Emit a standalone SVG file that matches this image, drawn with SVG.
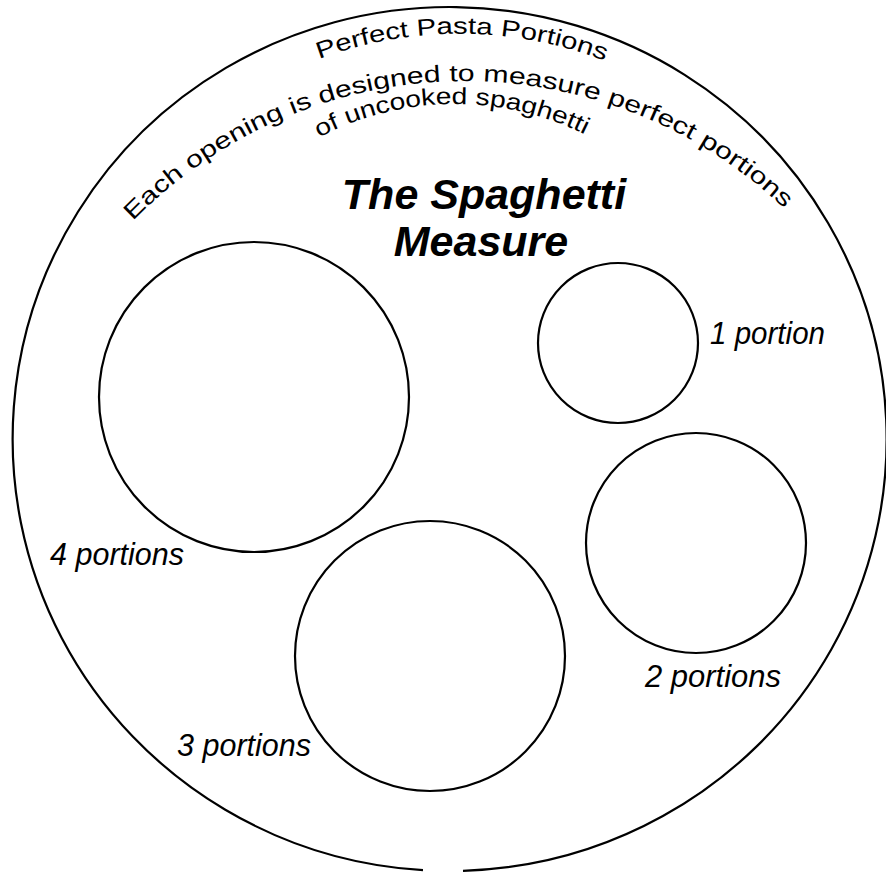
<svg xmlns="http://www.w3.org/2000/svg" xmlns:xlink="http://www.w3.org/1999/xlink" width="886" height="872" viewBox="0 0 886 872">
<style>
.ring{fill:none;stroke:#000;stroke-width:2.2}
.arc{font-family:"Liberation Sans",Arial,sans-serif;font-size:23.5px;fill:#000}
.lbl{font-family:"Liberation Sans",Arial,sans-serif;font-size:31px;font-style:italic;fill:#000}
.title{font-family:"Liberation Sans",Arial,sans-serif;font-size:43px;font-style:italic;font-weight:bold;fill:#000;text-anchor:middle}
</style>
<defs>
<path id="pA" d="M 319 59 A 404 404 0 0 1 609 62.5"/>
<path id="pB" d="M 133 221 A 464 464 0 0 1 789 213"/>
<path id="pC" d="M 319 137.5 A 292.6 292.6 0 0 1 588 136"/>
</defs>
<rect width="886" height="872" fill="#fff"/>
<g id="measure-body">
<path class="ring" d="M 463 870.8 A 437 432 0 1 0 423 870.2"/>
</g>
<g id="arc-texts">
<text class="arc"><textPath href="#pA" xlink:href="#pA" textLength="292" lengthAdjust="spacingAndGlyphs">Perfect Pasta Portions</textPath></text>
<text class="arc"><textPath href="#pB" xlink:href="#pB" textLength="722" lengthAdjust="spacingAndGlyphs">Each opening is designed to measure perfect portions</textPath></text>
<text class="arc"><textPath href="#pC" xlink:href="#pC" textLength="276" lengthAdjust="spacingAndGlyphs">of uncooked spaghetti</textPath></text>
</g>
<g id="title">
<text class="title" x="484" y="209">The Spaghetti</text>
<text class="title" x="481" y="256">Measure</text>
</g>
<g id="hole-1">
<circle class="ring" cx="618" cy="343" r="80"/>
<text class="lbl" x="710" y="344" textLength="115" lengthAdjust="spacingAndGlyphs">1 portion</text>
</g>
<g id="hole-2">
<circle class="ring" cx="696" cy="543" r="110"/>
<text class="lbl" x="645" y="687" textLength="136" lengthAdjust="spacingAndGlyphs">2 portions</text>
</g>
<g id="hole-3">
<circle class="ring" cx="430" cy="656" r="135"/>
<text class="lbl" x="177" y="756" textLength="134" lengthAdjust="spacingAndGlyphs">3 portions</text>
</g>
<g id="hole-4">
<circle class="ring" cx="254" cy="397" r="155"/>
<text class="lbl" x="50" y="565" textLength="134" lengthAdjust="spacingAndGlyphs">4 portions</text>
</g>
<g id="connectors"/>
</svg>
